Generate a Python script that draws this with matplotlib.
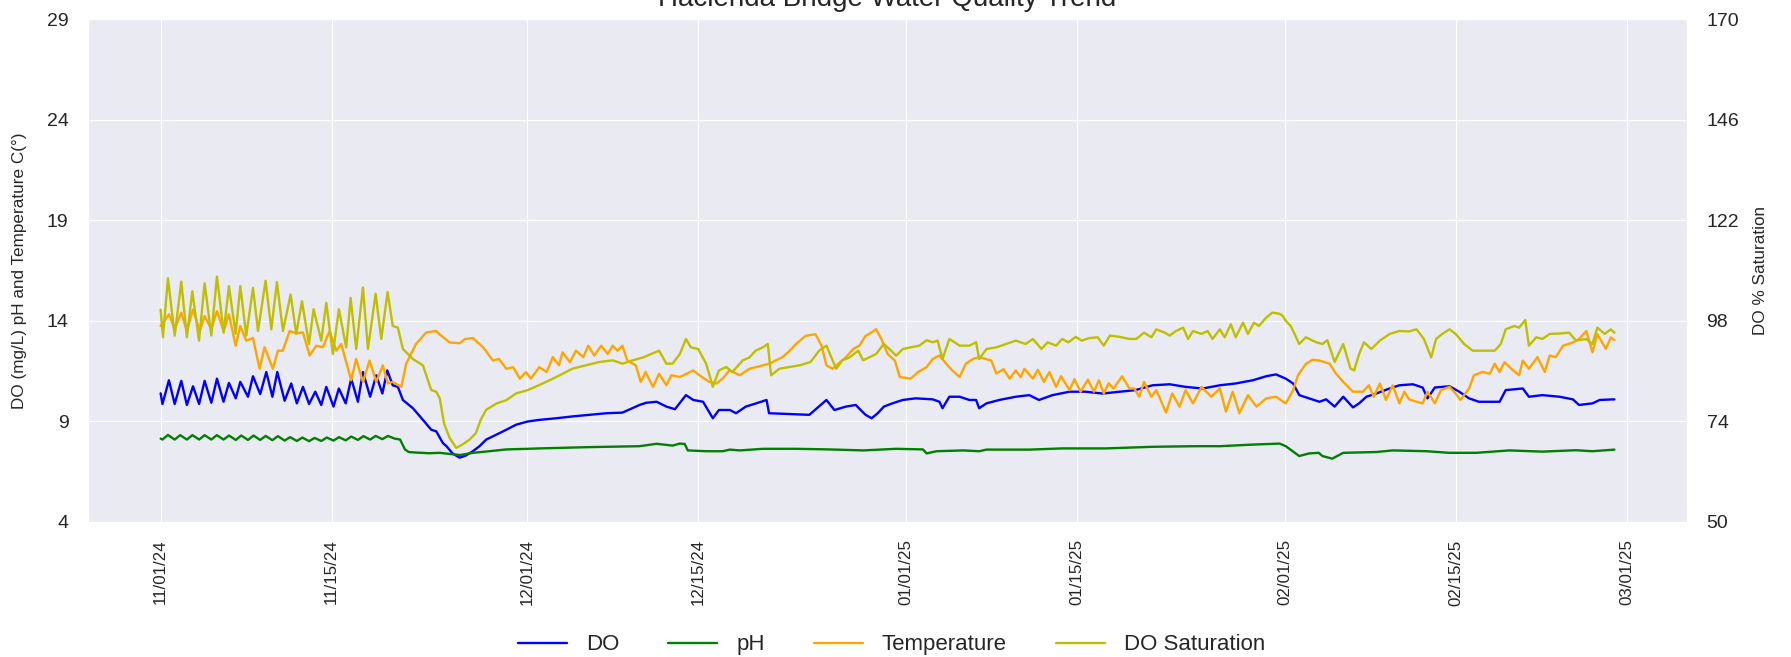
import matplotlib
matplotlib.use('Agg')

import matplotlib.pyplot as plt
import matplotlib.dates as mdates
import pandas as pd
import seaborn as sns

START = pd.Timestamp('2024-11-01')

# (days since 11/01/24, value)
do_points = [
    (0, 10.4), (0.15, 9.87), (0.68, 11.05), (1.15, 9.87), (1.69, 11.02), (2.15, 9.82), (2.65, 10.75),
    (3.15, 9.87), (3.6, 11.02), (4.15, 9.93), (4.61, 11.13), (5.15, 9.98), (5.59, 10.92), (6.15, 10.15),
    (6.52, 10.97), (7.15, 10.23), (7.56, 11.25), (8.15, 10.36), (8.65, 11.46), (9.15, 10.23), (9.55, 11.46),
    (10.15, 10.03), (10.69, 10.89), (11.15, 9.9), (11.65, 10.72), (12.15, 9.87), (12.66, 10.48),
    (13.15, 9.82), (13.56, 10.72), (14.15, 9.74), (14.59, 10.64), (15.15, 9.9), (15.6, 11.13),
    (16.15, 9.98), (16.56, 11.46), (17.15, 10.23), (17.65, 11.3), (18.15, 10.39), (18.55, 11.54),
    (19.0, 10.8), (19.42, 10.72), (19.83, 10.07), (20.65, 9.66), (21.47, 9.08), (22.15, 8.59),
    (22.56, 8.51), (23.1, 7.93), (23.4, 7.77), (23.9, 7.41), (24.47, 7.2), (25.0, 7.31), (25.56, 7.52),
    (26.1, 7.77), (26.65, 8.1), (27.47, 8.34), (28.3, 8.59), (29.1, 8.84), (30.06, 9.0), (31.0, 9.08),
    (32.4, 9.16), (33.7, 9.25), (35.1, 9.33), (36.5, 9.41), (37.8, 9.44), (39.2, 9.82), (39.75, 9.93),
    (40.6, 9.98), (41.4, 9.74), (42.1, 9.61), (43.0, 10.31), (43.6, 10.07), (44.4, 9.98), (45.2, 9.16),
    (45.7, 9.57), (46.6, 9.57), (47.1, 9.41), (47.9, 9.74), (48.75, 9.9), (49.6, 10.07), (49.8, 9.41),
    (51.5, 9.37), (53.1, 9.33), (54.5, 10.07), (55.15, 9.57), (56.1, 9.74), (56.9, 9.82), (57.3, 9.57),
    (57.7, 9.33), (58.2, 9.16), (58.7, 9.41), (59.2, 9.74), (59.9, 9.9), (60.75, 10.07), (61.8, 10.15),
    (63.2, 10.1), (63.75, 9.98), (64.0, 9.66), (64.56, 10.23), (65.4, 10.23), (66.2, 10.07),
    (66.75, 10.07), (67.0, 9.66), (67.6, 9.9), (68.65, 10.07), (70.0, 10.23), (71.1, 10.31),
    (71.9, 10.07), (73.0, 10.31), (74.4, 10.48), (75.7, 10.48), (77.1, 10.39), (78.5, 10.48),
    (79.8, 10.56), (81.2, 10.8), (82.6, 10.85), (83.9, 10.72), (85.3, 10.64), (86.7, 10.8), (88.0, 10.89),
    (89.4, 11.05), (90.5, 11.25), (91.3, 11.34), (92.1, 11.13), (92.7, 10.89), (93.2, 10.31),
    (94.0, 10.15), (94.85, 9.98), (95.4, 10.1), (96.1, 9.74), (96.8, 10.23), (97.6, 9.7), (98.1, 9.9),
    (98.7, 10.23), (99.5, 10.39), (100.6, 10.64), (101.4, 10.8), (102.5, 10.85), (103.3, 10.69),
    (103.7, 10.15), (104.3, 10.69), (105.5, 10.75), (106.3, 10.48), (107.1, 10.15), (107.9, 9.98),
    (109.6, 9.98), (110.1, 10.56), (111.5, 10.64), (112.0, 10.23), (113.1, 10.31), (114.5, 10.23),
    (115.6, 10.1), (116.1, 9.82), (117.2, 9.9), (117.8, 10.07), (119.0, 10.1),
]

ph_points = [
    (0, 8.15), (0.15, 8.1), (0.6, 8.33), (1.15, 8.1), (1.6, 8.32), (2.15, 8.1), (2.6, 8.32), (3.15, 8.1),
    (3.6, 8.32), (4.15, 8.1), (4.6, 8.32), (5.15, 8.1), (5.6, 8.3), (6.15, 8.08), (6.6, 8.3), (7.15, 8.08),
    (7.6, 8.3), (8.15, 8.08), (8.6, 8.28), (9.15, 8.07), (9.6, 8.27), (10.15, 8.05), (10.6, 8.22),
    (11.15, 8.03), (11.6, 8.2), (12.15, 8.02), (12.6, 8.18), (13.15, 8.03), (13.6, 8.2), (14.15, 8.05),
    (14.6, 8.22), (15.15, 8.06), (15.6, 8.25), (16.15, 8.08), (16.6, 8.27), (17.15, 8.1), (17.6, 8.28),
    (18.15, 8.12), (18.6, 8.28), (19.15, 8.15), (19.6, 8.1), (20.0, 7.61), (20.3, 7.48), (21.0, 7.45),
    (22.0, 7.42), (22.83, 7.44), (24.5, 7.33), (25.56, 7.44), (26.9, 7.52), (28.3, 7.61), (30.06, 7.64),
    (31.0, 7.66), (34.8, 7.72), (36.5, 7.74), (39.2, 7.77), (40.6, 7.89), (41.9, 7.8), (42.5, 7.9),
    (42.9, 7.88), (43.15, 7.56), (44.65, 7.52), (46.0, 7.52), (46.6, 7.6), (47.4, 7.56), (49.3, 7.64),
    (52.0, 7.64), (54.7, 7.61), (57.5, 7.56), (60.2, 7.64), (62.4, 7.61), (62.7, 7.41), (63.5, 7.52),
    (65.7, 7.56), (67.0, 7.52), (67.6, 7.6), (71.1, 7.6), (73.8, 7.66), (77.4, 7.66), (81.2, 7.74),
    (84.7, 7.77), (86.7, 7.77), (89.4, 7.85), (91.6, 7.9), (92.1, 7.77), (93.2, 7.28), (94.0, 7.41),
    (94.8, 7.44), (95.1, 7.28), (95.9, 7.15), (96.8, 7.44), (99.5, 7.48), (100.85, 7.56), (103.6, 7.52),
    (105.5, 7.44), (107.7, 7.44), (110.4, 7.56), (113.1, 7.5), (115.85, 7.57), (117.2, 7.52), (119.0, 7.6),
]

temp_points = [
    (0, 13.75), (0.68, 14.33), (1.15, 13.59), (1.69, 14.41), (2.15, 13.5), (2.65, 14.57), (3.2, 13.5),
    (3.6, 14.25), (4.15, 13.59), (4.61, 14.49), (5.15, 13.5), (5.59, 14.33), (6.14, 12.77), (6.52, 13.75),
    (7.0, 13.02), (7.56, 13.15), (8.1, 11.62), (8.51, 12.69), (9.19, 11.62), (9.6, 12.52), (10.0, 12.52),
    (10.56, 13.5), (11.1, 13.38), (11.65, 13.43), (12.2, 12.28), (12.74, 12.77), (13.28, 12.69),
    (13.83, 13.5), (14.38, 12.52), (14.78, 12.85), (15.6, 11.05), (16.0, 12.11), (16.56, 10.97),
    (17.1, 12.03), (17.65, 10.97), (18.19, 11.79), (18.6, 10.89), (19.0, 10.97), (19.7, 10.72),
    (20.1, 11.87), (20.9, 12.85), (21.74, 13.43), (22.56, 13.5), (22.83, 13.34), (23.65, 12.93),
    (24.5, 12.89), (24.9, 13.1), (25.56, 13.15), (26.4, 12.69), (27.2, 12.03), (27.7, 12.11),
    (28.3, 11.62), (28.85, 11.7), (29.4, 11.13), (29.9, 11.46), (30.3, 11.13), (31.0, 11.7),
    (31.6, 11.46), (32.1, 12.2), (32.6, 11.79), (32.9, 12.44), (33.5, 11.95), (34.0, 12.52), (34.6, 12.2),
    (35.0, 12.77), (35.5, 12.28), (36.06, 12.77), (36.6, 12.36), (37.0, 12.77), (37.4, 12.52),
    (37.8, 12.77), (38.2, 12.03), (38.9, 11.79), (39.3, 10.97), (39.7, 11.46), (40.3, 10.72),
    (40.8, 11.38), (41.4, 10.8), (41.8, 11.3), (42.5, 11.21), (43.6, 11.54), (44.1, 11.3), (44.9, 10.97),
    (45.5, 10.89), (46.0, 11.13), (46.56, 11.54), (47.4, 11.3), (48.2, 11.62), (49.3, 11.79),
    (49.8, 11.87), (50.9, 12.2), (51.5, 12.52), (52.0, 12.85), (52.8, 13.26), (53.6, 13.34),
    (54.1, 12.77), (54.5, 11.79), (55.0, 11.62), (56.1, 12.2), (56.7, 12.61), (57.2, 12.77),
    (57.7, 13.26), (58.2, 13.43), (58.56, 13.59), (59.0, 13.1), (59.5, 12.36), (60.1, 12.03),
    (60.5, 11.21), (61.4, 11.13), (62.0, 11.46), (62.7, 11.7), (63.2, 12.11), (63.75, 12.28),
    (64.3, 11.87), (64.8, 11.54), (65.4, 11.21), (65.9, 11.87), (66.5, 12.11), (67.0, 12.2),
    (68.0, 12.03), (68.4, 11.38), (69.0, 11.6), (69.5, 11.13), (70.0, 11.54), (70.4, 11.2),
    (70.7, 11.62), (71.4, 11.13), (71.8, 11.57), (72.3, 10.97), (72.75, 11.46), (73.3, 10.72),
    (73.7, 11.25), (74.4, 10.56), (74.8, 11.1), (75.3, 10.48), (75.9, 11.08), (76.4, 10.48),
    (76.8, 11.05), (77.2, 10.39), (77.6, 10.9), (78.0, 10.64), (78.7, 11.25), (79.3, 10.64),
    (79.7, 10.64), (80.1, 10.23), (80.5, 10.97), (81.1, 10.23), (81.5, 10.56), (82.3, 9.44),
    (82.8, 10.39), (83.4, 9.74), (83.9, 10.56), (84.5, 9.9), (85.2, 10.72), (86.0, 10.23), (86.7, 10.64),
    (87.2, 9.49), (87.75, 10.48), (88.3, 9.41), (89.0, 10.31), (89.7, 9.74), (90.5, 10.15),
    (91.3, 10.23), (92.1, 9.9), (92.7, 10.56), (93.1, 11.3), (93.75, 11.87), (94.3, 12.07),
    (94.85, 12.03), (95.7, 11.87), (96.2, 11.38), (96.8, 10.97), (97.6, 10.48), (98.4, 10.48),
    (98.9, 10.8), (99.3, 10.23), (99.8, 10.89), (100.3, 10.07), (100.85, 10.8), (101.4, 9.9),
    (101.8, 10.48), (102.2, 10.1), (102.8, 9.98), (103.3, 9.9), (103.7, 10.48), (104.3, 9.9),
    (104.8, 10.56), (105.5, 10.72), (106.0, 10.39), (106.4, 10.07), (107.1, 10.64), (107.5, 11.3),
    (108.2, 11.46), (108.8, 11.38), (109.2, 11.87), (109.6, 11.46), (110.0, 11.95), (110.7, 11.54),
    (111.2, 11.3), (111.5, 12.03), (112.0, 11.62), (112.7, 12.2), (113.3, 11.46), (113.7, 12.28),
    (114.2, 12.2), (114.8, 12.77), (115.6, 12.93), (116.1, 13.1), (116.7, 13.5), (117.2, 12.44),
    (117.6, 13.34), (118.3, 12.61), (118.7, 13.18), (119.0, 13.05),
]

sat_points = [
    (0, 100.7), (0.19, 94.1), (0.6, 108.2), (1.15, 94.5), (1.69, 107.4), (2.15, 94.1), (2.59, 105.1),
    (3.14, 93.3), (3.6, 107.0), (4.15, 94.5), (4.61, 108.6), (5.16, 95.2), (5.59, 106.3), (6.14, 94.9),
    (6.52, 106.3), (7.01, 94.5), (7.56, 105.9), (7.97, 95.6), (8.59, 107.6), (9.06, 96.0), (9.52, 107.3),
    (10.01, 95.6), (10.64, 104.3), (11.1, 94.9), (11.57, 102.7), (12.14, 92.5), (12.52, 100.8),
    (13.15, 93.3), (13.56, 102.3), (14.1, 90.1), (14.59, 100.8), (15.19, 91.7), (15.55, 103.5),
    (16.01, 91.3), (16.56, 106.0), (16.97, 91.3), (17.6, 104.5), (18.06, 93.7), (18.58, 104.9),
    (19.0, 96.8), (19.42, 96.4), (19.83, 91.3), (20.65, 88.9), (21.47, 87.4), (22.15, 81.5),
    (22.56, 81.1), (22.85, 79.5), (23.2, 73.5), (23.65, 70.1), (24.2, 67.7), (24.7, 68.5), (25.3, 69.7),
    (25.8, 71.2), (26.2, 74.4), (26.65, 76.8), (27.5, 78.3), (28.3, 79.1), (29.1, 80.7), (30.06, 81.5),
    (31.0, 82.7), (31.8, 83.8), (32.65, 85.0), (33.7, 86.6), (34.8, 87.4), (35.9, 88.2), (37.0, 88.6),
    (37.8, 87.8), (38.65, 88.6), (39.5, 89.3), (40.15, 90.1), (40.8, 90.9), (41.4, 87.8), (41.9, 87.8),
    (42.5, 90.1), (43.0, 93.7), (43.4, 91.7), (44.0, 91.3), (44.65, 87.8), (45.2, 82.3), (45.7, 86.2),
    (46.3, 87.0), (46.8, 85.8), (47.4, 87.8), (47.65, 88.6), (48.2, 89.3), (48.7, 90.9), (49.3, 91.7),
    (49.7, 92.5), (49.97, 85.0), (50.65, 86.6), (51.5, 87.0), (52.3, 87.4), (53.2, 88.2), (53.9, 90.9),
    (54.5, 92.1), (54.9, 89.3), (55.3, 86.6), (55.8, 88.6), (56.4, 89.3), (57.1, 90.9), (57.5, 88.6),
    (58.0, 89.3), (58.56, 90.1), (59.2, 92.5), (59.8, 90.9), (60.2, 89.7), (60.75, 91.3), (61.4, 91.7),
    (62.1, 92.1), (62.7, 93.4), (63.2, 92.9), (63.6, 93.3), (64.0, 88.9), (64.56, 93.7), (65.4, 92.1),
    (66.2, 92.1), (66.75, 92.9), (67.0, 88.9), (67.6, 91.3), (68.4, 91.7), (69.2, 92.5), (70.0, 93.3),
    (70.8, 92.5), (71.4, 93.7), (72.1, 91.3), (72.6, 92.9), (73.3, 92.1), (73.8, 93.7), (74.3, 92.9),
    (74.9, 94.2), (75.4, 93.3), (76.0, 93.9), (76.7, 94.1), (77.2, 92.1), (77.7, 94.5), (78.5, 94.2),
    (79.3, 93.7), (79.85, 93.7), (80.5, 95.2), (81.1, 94.1), (81.5, 96.0), (82.2, 95.2), (82.6, 94.5),
    (83.1, 95.6), (83.7, 96.4), (84.1, 93.7), (84.5, 95.6), (85.2, 94.9), (85.7, 95.6), (86.1, 93.7),
    (86.7, 96.0), (87.1, 94.1), (87.6, 97.2), (88.0, 94.1), (88.6, 97.6), (89.0, 94.9), (89.5, 97.6),
    (89.9, 96.8), (90.5, 98.8), (91.0, 100.0), (91.6, 99.7), (91.85, 99.2), (92.1, 98.0), (92.5, 96.8),
    (93.2, 92.5), (93.75, 94.1), (94.3, 93.3), (94.6, 92.9), (95.1, 92.5), (95.5, 93.4), (96.1, 88.2),
    (96.8, 92.5), (97.4, 86.6), (97.7, 86.2), (98.1, 90.1), (98.5, 92.9), (99.1, 91.3), (99.8, 93.3),
    (100.6, 94.9), (101.4, 95.6), (102.2, 95.5), (102.8, 96.0), (103.4, 93.7), (104.0, 89.3),
    (104.4, 93.7), (104.9, 94.9), (105.5, 96.0), (106.0, 94.9), (106.7, 92.5), (107.4, 90.9),
    (108.2, 90.9), (109.2, 90.9), (109.7, 92.5), (110.1, 96.0), (110.8, 96.8), (111.2, 96.4),
    (111.7, 98.2), (112.0, 92.1), (112.6, 94.1), (113.1, 93.7), (113.7, 94.9), (114.5, 95.0),
    (115.3, 95.2), (115.85, 93.3), (116.7, 93.7), (117.2, 92.5), (117.6, 96.4), (118.2, 94.9),
    (118.7, 96.0), (119.0, 95.2),
]

left_ticks = [4, 9, 14, 19, 24, 29]
right_ticks = [50, 74, 98, 122, 146, 170]


def to_series(points):
    days, vals = zip(*points)
    return START + pd.to_timedelta(list(days), unit='D'), list(vals)


sns.set_style('darkgrid')
plt.rcParams['font.family'] = ['Liberation Sans', 'DejaVu Sans']

fig, ax = plt.subplots(figsize=(17.91, 6.57), dpi=100)
fig.subplots_adjust(left=0.0491, right=0.9420, top=0.9705, bottom=0.2055)

lw = 1.7
ax.plot(*to_series(do_points), color='blue', lw=lw, label='DO')
ax.plot(*to_series(ph_points), color='green', lw=lw, label='pH')
ax.plot(*to_series(temp_points), color='orange', lw=lw, label='Temperature')

ax2 = ax.twinx()
ax2.plot(*to_series(sat_points), color='y', lw=lw, label='DO Saturation')
ax2.grid(False)

ax.set_ylim(4, 29)
ax.set_yticks(left_ticks)
ax2.set_ylim(50, 170)
ax2.set_yticks(right_ticks)

ax.xaxis.set_major_locator(mdates.DayLocator(bymonthday=[1, 15]))
ax.xaxis.set_major_formatter(mdates.DateFormatter('%m/%d/%y'))
ax.tick_params(axis='x', labelsize=12.2, pad=12.5, length=0, labelrotation=90, colors='#262626')
ax.tick_params(axis='y', labelsize=14, pad=14, length=0, colors='#262626')
ax2.tick_params(axis='y', labelsize=14, pad=14, length=0, colors='#262626')

ax.set_ylabel('DO (mg/L) pH and Temperature C(°)', fontsize=12.3, color='#262626')
ax.yaxis.set_label_coords(-0.038, 0.5)
ax2.set_ylabel('DO % Saturation', fontsize=12.3, color='#262626')
ax2.yaxis.set_label_coords(1.041, 0.5)

ax.set_title('Hacienda Bridge Water Quality Trend', fontsize=20, color='#262626', pad=9.5)

h1, l1 = ax.get_legend_handles_labels()
h2, l2 = ax2.get_legend_handles_labels()
fig.legend(h1 + h2, l1 + l2, loc='center', bbox_to_anchor=(0.4978, 0.0183), ncol=4,
           frameon=False, fontsize=16, handlelength=2.2, handletextpad=0.86, columnspacing=2.2)

fig.savefig('out.png', dpi=100)
